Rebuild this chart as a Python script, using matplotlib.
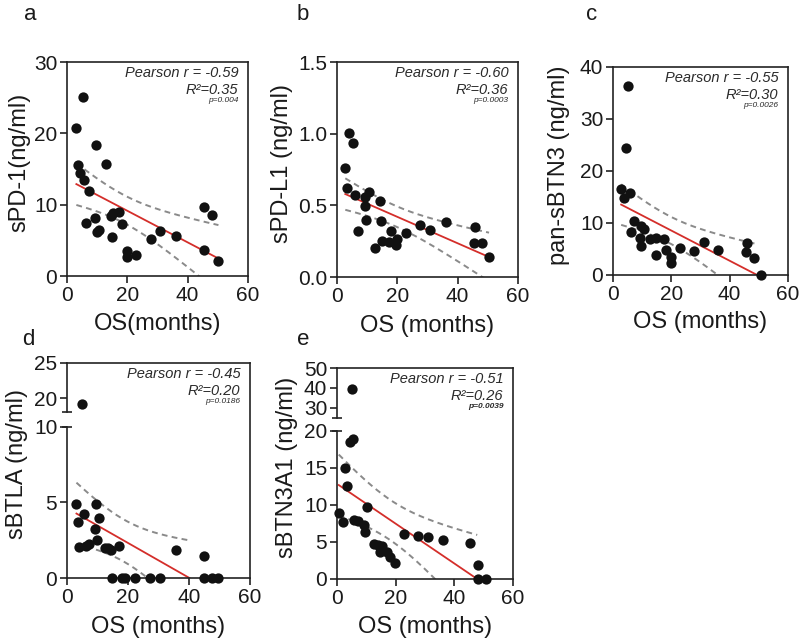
import numpy as np
import matplotlib
matplotlib.use("Agg")
import matplotlib.pyplot as plt

plt.rcParams['font.family'] = ['Liberation Sans', 'DejaVu Sans']

# OS (months) vs soluble checkpoint levels
a_os = [3.1, 5.2, 3.5, 4.4, 5.5, 7.2, 9.7, 12.8, 6.3, 9.4, 9.9, 10.6, 14.5, 15.4,
        17.4, 18.1, 14.8, 19.8, 19.8, 22.9, 27.7, 30.8, 36.0, 45.4, 48.0, 45.5, 50.2]
a_val = [20.8, 25.1, 15.5, 14.4, 13.4, 11.9, 18.4, 15.7, 7.5, 8.1, 6.2, 6.5, 8.4, 8.8,
         9.0, 7.3, 5.5, 3.5, 2.6, 2.9, 5.2, 6.3, 5.6, 9.7, 8.6, 3.6, 2.1]

b_os = [2.75, 4.1, 5.4, 3.3, 6.1, 10.5, 9.2, 9.4, 14.4, 9.6, 7.0, 14.6, 12.5, 17.9,
        14.9, 17.1, 19.9, 19.7, 22.9, 27.6, 30.7, 36.1, 45.6, 45.4, 48.1, 50.4]
b_val = [0.763, 1.005, 0.935, 0.624, 0.575, 0.593, 0.558, 0.493, 0.530, 0.40, 0.321,
         0.391, 0.20, 0.321, 0.251, 0.244, 0.268, 0.221, 0.31, 0.361, 0.331, 0.384,
         0.351, 0.240, 0.240, 0.137]

c_os = [5.3, 4.3, 2.8, 3.6, 5.7, 7.1, 6.3, 9.6, 10.7, 9.4, 9.7, 12.8, 14.7, 17.4,
        14.8, 18.3, 19.9, 19.9, 23.1, 27.9, 31.1, 35.9, 45.8, 45.7, 48.5, 50.6]
c_val = [36.3, 24.5, 16.5, 14.8, 15.7, 10.4, 8.2, 9.5, 8.9, 7.1, 5.5, 6.9, 7.1, 6.9,
         3.9, 4.9, 3.4, 2.4, 5.2, 4.7, 6.4, 4.85, 6.1, 4.4, 3.2, 0.0]

d_os = [3.1, 3.5, 5.0, 5.5, 4.0, 6.1, 7.2, 9.5, 9.1, 10.4, 9.7, 12.4, 13.6, 14.5,
        17.1, 14.7, 18.0, 19.1, 22.4, 27.3, 30.5, 35.9, 45.0, 45.0, 47.4, 49.6]
d_val = [4.88, 3.69, 19.2, 4.24, 2.04, 2.09, 2.26, 4.92, 3.25, 3.98, 2.48, 1.96, 1.96,
         1.82, 2.11, 0, 0, 0, 0, 0, 0, 1.87, 1.43, 0, 0, 0]

e_os = [5.0, 0.6, 2.0, 2.6, 3.4, 4.6, 5.5, 5.8, 7.3, 9.2, 9.5, 10.2, 12.5, 14.1, 14.5,
        15.2, 17.0, 17.95, 19.7, 22.8, 27.7, 31.0, 36.0, 45.3, 48.2, 48.2, 50.7]
e_val = [39.5, 8.9, 7.7, 14.9, 12.5, 18.5, 18.9, 8.0, 7.8, 7.3, 6.35, 9.7, 4.7, 4.6,
         3.7, 4.4, 3.6, 3.0, 2.2, 6.0, 5.8, 5.7, 5.2, 4.9, 1.9, 0.0, 0.0]

letters = ['a', 'b', 'c', 'd', 'e']
ylabels = ['sPD-1(ng/ml)', 'sPD-L1 (ng/ml)', 'pan-sBTN3 (ng/ml)', 'sBTLA (ng/ml)', 'sBTN3A1 (ng/ml)']
xlabels = ['OS(months)', 'OS (months)', 'OS (months)', 'OS (months)', 'OS (months)']
pearson = ['-0.59', '-0.60', '-0.55', '-0.45', '-0.51']
rsq = ['0.35', '0.36', '0.30', '0.20', '0.26']
pvals = ['0.004', '0.0003', '0.0026', '0.0186', '0.0039']

xs = [a_os, b_os, c_os, d_os, e_os]
ys = [a_val, b_val, c_val, d_val, e_val]

# panel boxes in pixels: left, right, top, bottom
boxes = [(67, 248, 62, 276), (337, 518, 62, 277), (613, 788, 67, 275),
         (67, 250, 363, 578), (337, 513, 368, 579)]
ylims = [(0, 30), (0, 1.5), (0, 40), (0, 25), (0, 50)]
yticks = [[0, 10, 20, 30], [0, 0.5, 1.0, 1.5], [0, 10, 20, 30, 40],
          [0, 5, 10, 20, 25], [0, 5, 10, 15, 20, 30, 40, 50]]
ytickfmt = ['%d', '%.1f', '%d', '%d', '%d']
ylab_x = [-0.204, -0.243, -0.246, -0.215, -0.222]
# broken y axes: (top of lower part, bottom of upper part, gap, upper scale ratio)
breaks = [None, None, None, (10, 18.03, 0.943, 0.469), (20, 25, 1.71, 0.2695)]

W, H = 800, 643
T_CRIT = 2.06
SPINE = '#222222'


def make_break(lo, hi, gap, ratio):
    def fwd(y):
        y = np.asarray(y, float)
        return np.where(y <= lo, y,
                        np.where(y >= hi, lo + gap + (y - hi) * ratio,
                                 lo + (y - lo) / (hi - lo) * gap))

    def inv(u):
        u = np.asarray(u, float)
        return np.where(u <= lo, u,
                        np.where(u >= lo + gap, hi + (u - lo - gap) / ratio,
                                 lo + (u - lo) / gap * (hi - lo)))
    return fwd, inv


fig = plt.figure(figsize=(W / 100, H / 100), dpi=100)

for i in range(5):
    l, r, t, b = boxes[i]
    ax = fig.add_axes([l / W, 1 - b / H, (r - l) / W, (b - t) / H])
    x = np.array(xs[i], float)
    y = np.array(ys[i], float)

    if breaks[i] is not None:
        lo, hi, gap, ratio = breaks[i]
        ax.set_yscale('function', functions=make_break(lo, hi, gap, ratio))

    # linear regression + 95% confidence band
    slope, icpt = np.polyfit(x, y, 1)
    n = len(x)
    resid = y - (slope * x + icpt)
    s = np.sqrt(np.sum(resid ** 2) / (n - 2))
    sxx = np.sum((x - x.mean()) ** 2)
    x_end = x.max()
    if slope < 0 and -icpt / slope < x_end:
        x_end = -icpt / slope
    xf = np.linspace(x.min(), x_end, 200)
    yf = slope * xf + icpt
    half = T_CRIT * s * np.sqrt(1 / n + (xf - x.mean()) ** 2 / sxx)

    ax.plot(xf, yf + half, color='#8a8a8a', lw=1.4, ls=(0, (3, 2.2)), zorder=2)
    ax.plot(xf, yf - half, color='#8a8a8a', lw=1.4, ls=(0, (3, 2.2)), zorder=2)
    ax.plot(xf, yf, color='#d42e2a', lw=1.3, zorder=2)
    ax.scatter(x, y, s=55, color='#111111', zorder=3, clip_on=False, linewidths=0)

    ax.set_xlim(0, 60)
    ax.set_ylim(*ylims[i])
    ax.set_xticks([0, 20, 40, 60])
    ax.set_yticks(yticks[i])
    ax.set_yticklabels([ytickfmt[i] % v for v in yticks[i]])

    for sp in ax.spines.values():
        sp.set_color(SPINE)
        sp.set_linewidth(1.2)
    ax.tick_params(direction='out', length=5, width=1.2, color=SPINE,
                   labelsize=15, labelcolor='#1a1a1a', pad=2)

    if breaks[i] is not None:
        lo, hi, gap, ratio = breaks[i]
        ax.spines['left'].set_visible(False)
        tr = ax.get_yaxis_transform()
        ax.plot([0, 0], [0, lo], color=SPINE, lw=1.2, transform=tr, clip_on=False)
        ax.plot([0, 0], [hi, ylims[i][1]], color=SPINE, lw=1.2, transform=tr, clip_on=False)
        ax.plot([0, 0], [lo, hi], ls='none', marker='_', ms=7, mew=1.2,
                color=SPINE, transform=tr, clip_on=False)

    ax.set_ylabel(ylabels[i], fontsize=17, color='#1a1a1a')
    ax.yaxis.set_label_coords(ylab_x[i], 0.53)
    ax.set_xlabel(xlabels[i], fontsize=17, color='#1a1a1a')
    ax.xaxis.set_label_coords(0.5, -0.175)

    # stats text, upper right corner
    ax.annotate('Pearson r = ' + pearson[i], xy=(1, 1), xycoords='axes fraction',
                xytext=(-7, -11), textcoords='offset points', ha='right',
                va='baseline', fontsize=10.5, style='italic', color='#2a2a2a')
    ax.annotate('R\u00b2=' + rsq[i], xy=(1, 1), xycoords='axes fraction',
                xytext=(-7, -23), textcoords='offset points', ha='right',
                va='baseline', fontsize=10.5, style='italic', color='#2a2a2a')
    ax.annotate('p=' + pvals[i], xy=(1, 1), xycoords='axes fraction',
                xytext=(-7, -29), textcoords='offset points', ha='right',
                va='baseline', fontsize=6, style='italic', color='#2a2a2a',
                fontweight='bold' if i == 4 else 'normal')

    # panel letter
    lx = [30, 303, 592, 28, 303][i]
    ly = [15, 15, 15, 340, 340][i]
    fig.text(lx / W, 1 - ly / H, letters[i], fontsize=16, ha='center', va='center',
             color='#1a1a1a')

fig.savefig('out.png', dpi=100)
